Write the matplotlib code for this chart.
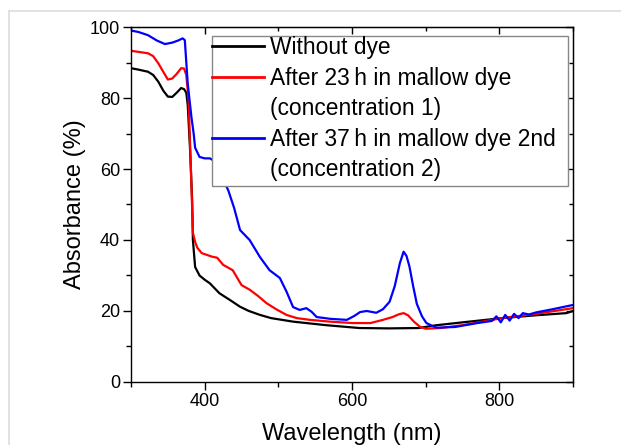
import matplotlib
matplotlib.use('Agg')
import matplotlib.pyplot as plt
from matplotlib.lines import Line2D
from matplotlib.patches import Rectangle
from matplotlib.ticker import MultipleLocator, NullFormatter

plt.rcParams['font.family'] = ['Liberation Sans', 'DejaVu Sans']

# without dye
wl_black = [300, 310, 323, 330, 337, 344, 350, 356, 362, 368, 372, 375, 377, 380, 383, 384, 387,
            393, 400, 407, 420, 435, 448, 460, 475, 490, 520, 565, 610, 650, 690, 715, 750,
            804, 850, 891, 900]
abs_black = [88.4, 88.0, 87.4, 86.5, 84.6, 82.0, 80.4, 80.3, 81.5, 82.8, 82.5, 81.5, 78.0, 66.0, 51.0,
             40.0, 32.4, 30.0, 28.8, 27.8, 25.0, 23.0, 21.2, 20.0, 18.9, 18.0, 17.0, 16.0, 15.2,
             15.1, 15.2, 16.0, 16.8, 18.0, 18.8, 19.4, 20.0]

# after 23 h (concentration 1)
wl_red = [300, 310, 323, 330, 337, 344, 350, 356, 362, 368, 372, 375, 378, 381, 384, 387, 390,
          396, 403, 410, 417, 425, 438, 450, 461, 472, 484, 497, 511, 525, 543, 570, 601, 625,
          642, 655, 664, 670, 676, 684, 692, 700, 720, 750, 804, 850, 900]
abs_red = [93.3, 93.0, 92.6, 91.8, 89.8, 87.3, 85.2, 85.5, 86.8, 88.4, 88.3, 86.5, 80.0, 62.0, 42.0,
           39.5, 37.8, 36.3, 35.8, 35.3, 35.0, 33.0, 31.5, 27.3, 26.0, 24.3, 22.2, 20.5, 18.9,
           18.0, 17.5, 17.0, 16.6, 16.6, 17.5, 18.3, 19.1, 19.4, 18.8, 17.0, 15.6, 15.0, 15.2,
           16.0, 18.0, 19.2, 20.8]

# after 37 h (concentration 2)
wl_blue = [300, 310, 323, 335, 346, 356, 364, 370, 373, 377, 382, 385, 387, 393, 400, 407, 415,
           425, 432, 440, 448, 461, 475, 488, 502, 511, 520, 529, 538, 545, 552, 570, 593, 603, 611,
           620, 633, 642, 651, 658, 665, 670, 674, 678, 683, 688, 695, 701, 709, 715, 740, 770,
           790, 796, 802, 808, 814, 820, 826, 832, 840, 850, 870, 900]
abs_blue = [99.0, 98.6, 97.7, 96.2, 95.2, 95.6, 96.2, 96.8, 96.3, 84.0, 74.6, 70.0, 66.0, 63.4,
            63.0, 63.0, 62.0, 57.0, 54.0, 49.0, 42.8, 40.0, 35.2, 31.5, 29.3, 25.5, 21.1, 20.3, 20.8,
            19.8, 18.3, 17.8, 17.5, 18.6, 19.7, 20.0, 19.5, 20.5, 22.6, 27.0, 33.5, 36.7, 35.5,
            32.5, 27.0, 22.0, 18.5, 16.6, 15.8, 15.3, 15.5, 16.6, 17.2, 18.5, 16.8, 18.9, 17.3,
            19.2, 18.0, 19.4, 19.0, 19.6, 20.4, 21.7]

labels = ['Without dye',
          'After 23\u2009h in mallow dye', '(concentration 1)',
          'After 37\u2009h in mallow dye 2nd', '(concentration 2)']

fig = plt.figure(figsize=(6.21, 4.45), dpi=100)
ax = fig.add_axes([0.211, 0.1416, 0.7117, 0.7977])

lw = 1.6
l1, = ax.plot(wl_black, abs_black, color='black', lw=lw)
l2, = ax.plot(wl_red, abs_red, color='#ff0000', lw=lw)
l3, = ax.plot(wl_blue, abs_blue, color='#0000ff', lw=lw)

ax.set_xlim(300, 900)
ax.set_ylim(0, 100)
ax.xaxis.set_major_locator(MultipleLocator(200))
ax.xaxis.set_minor_locator(MultipleLocator(100))
ax.yaxis.set_major_locator(MultipleLocator(20))
ax.yaxis.set_minor_locator(MultipleLocator(10))
ax.tick_params(which='both', direction='out', labelsize=13, width=1)
ax.tick_params(which='major', length=5.5, pad=2.5)
ax.tick_params(which='minor', length=3.5)
for s in ax.spines.values():
    s.set_linewidth(1)

top = ax.secondary_xaxis('top')
top.xaxis.set_major_locator(MultipleLocator(200))
top.xaxis.set_minor_locator(MultipleLocator(100))
top.xaxis.set_major_formatter(NullFormatter())
top.tick_params(which='both', direction='in', width=1)
top.tick_params(which='major', length=5)
top.tick_params(which='minor', length=3)
right = ax.secondary_yaxis('right')
right.yaxis.set_major_locator(MultipleLocator(20))
right.yaxis.set_minor_locator(MultipleLocator(10))
right.yaxis.set_major_formatter(NullFormatter())
right.tick_params(which='both', direction='in', width=1)
right.tick_params(which='major', length=5)
right.tick_params(which='minor', length=3)

ax.set_xlabel('Wavelength (nm)', fontsize=17, labelpad=9)
ax.set_ylabel('Absorbance (%)', fontsize=17, labelpad=3)

blank = Line2D([], [], color='none')
leg = ax.legend([l1, l2, blank, l3, blank], labels, fontsize=16.4,
                loc='upper left', bbox_to_anchor=(0.1833, 0.9746),
                frameon=False, borderpad=0, borderaxespad=0,
                handlelength=2.3, handletextpad=0.25, labelspacing=0.33)
for h in leg.legend_handles:
    h.set_linewidth(2)
ax.add_patch(Rectangle((0.1833, 0.5521), 0.9887 - 0.1833, 0.9746 - 0.5521,
                       transform=ax.transAxes, facecolor='white', edgecolor='#888888',
                       lw=1, zorder=4.5))
leg.set_zorder(5)

# light page frame
fig.add_artist(Line2D([9 / 621, 1], [1 - 11 / 445, 1 - 11 / 445], color='#dddddd', lw=1.2))
fig.add_artist(Line2D([9 / 621, 9 / 621], [0, 1 - 11 / 445], color='#dddddd', lw=1.2))

fig.savefig('out.png', dpi=100)
